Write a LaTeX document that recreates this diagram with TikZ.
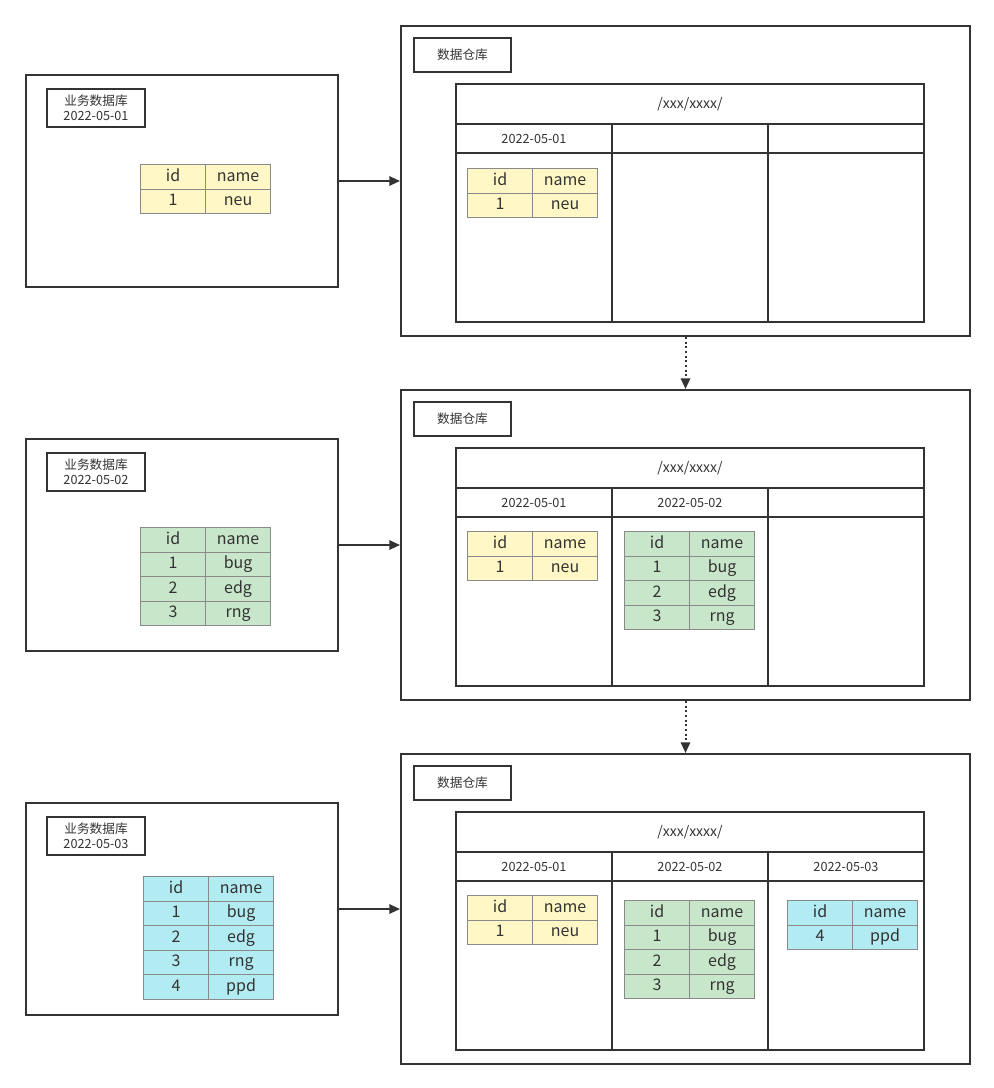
\documentclass[tikz,border=0pt]{standalone}
\usepackage{fontspec}
\setmainfont{Noto Sans CJK SC}
\usetikzlibrary{arrows.meta}
\definecolor{linec}{HTML}{333333}
\definecolor{cellc}{HTML}{8A8A8A}
\definecolor{txt}{HTML}{333333}
\definecolor{yel}{HTML}{FFF8C6}
\definecolor{grn}{HTML}{C8E6C9}
\definecolor{cyn}{HTML}{B2EBF2}
\tikzset{
  frame/.style={draw=linec, line width=1.5pt, inner sep=0pt, text=txt},
  lbl/.style={frame, font=\fontsize{9.5}{11.5}\selectfont, align=center},
  hdr/.style={frame, font=\fontsize{10.5}{12}\selectfont},
  datec/.style={frame, font=\fontsize{9.5}{11}\selectfont},
  cell/.style={draw=cellc, line width=0.9pt, anchor=north west, inner sep=0pt,
    minimum width=48.75pt, minimum height=18.375pt, text=txt,
    text height=9pt, text depth=2.5pt,
    font=\fontsize{12}{14}\selectfont},
  arr/.style={draw=linec, line width=1.5pt, -{Triangle[length=8pt,width=7pt]}},
  darr/.style={arr, dotted},
}
\newcommand{\rbox}[7]{\node[#6,anchor=north west,minimum width={0.75pt*(#4-#2)},minimum height={0.75pt*(#5-#3)}] (#1) at (#2,#3) {#7};}
\newcommand{\dbtable}[5]{%
  \node[cell,fill=#4] (#1-h1) at (#2,#3) {id};
  \node[cell,fill=#4] (#1-h2) at ({#2+65},#3) {name};
  \foreach \a/\b [count=\k] in {#5} {
    \node[cell,fill=#4] (#1-\k a) at (#2,{#3+24.5*\k}) {\a};
    \node[cell,fill=#4] (#1-\k b) at ({#2+65},{#3+24.5*\k}) {\b};
  }%
}
\begin{document}
\begin{tikzpicture}[x=0.75pt,y=-0.75pt]
\useasboundingbox[fill=white] (0,0) rectangle (994,1088);

% ---------- section 1 ----------
\rbox{lb1}{25}{74}{337}{286}{frame}{}
\rbox{ll1}{46}{88}{144}{126}{lbl}{业务数据库\\2022-05-01}
\dbtable{t1}{140}{164}{yel}{1/neu}
\rbox{wh1}{400}{25}{969}{335}{frame}{}
\rbox{wl1}{413}{37}{510}{71}{lbl}{数据仓库}
\rbox{hd1}{455}{83}{923}{123}{hdr}{/xxx/xxxx/}
\rbox{d1a}{455}{123}{611}{152}{datec}{2022-05-01}
\rbox{d1b}{611}{123}{767}{152}{datec}{}
\rbox{d1c}{767}{123}{923}{152}{datec}{}
\rbox{b1a}{455}{152}{611}{321}{frame}{}
\rbox{b1b}{611}{152}{767}{321}{frame}{}
\rbox{b1c}{767}{152}{923}{321}{frame}{}
\dbtable{w1a}{467}{168}{yel}{1/neu}
\draw[arr] (lb1.east) -- (wh1.west);

% ---------- section 2 ----------
\rbox{lb2}{25}{438}{337}{650}{frame}{}
\rbox{ll2}{46}{452}{144}{490}{lbl}{业务数据库\\2022-05-02}
\dbtable{t2}{140}{527}{grn}{1/bug,2/edg,3/rng}
\rbox{wh2}{400}{389}{969}{699}{frame}{}
\rbox{wl2}{413}{401}{510}{435}{lbl}{数据仓库}
\rbox{hd2}{455}{447}{923}{487}{hdr}{/xxx/xxxx/}
\rbox{d2a}{455}{487}{611}{516}{datec}{2022-05-01}
\rbox{d2b}{611}{487}{767}{516}{datec}{2022-05-02}
\rbox{d2c}{767}{487}{923}{516}{datec}{}
\rbox{b2a}{455}{516}{611}{685}{frame}{}
\rbox{b2b}{611}{516}{767}{685}{frame}{}
\rbox{b2c}{767}{516}{923}{685}{frame}{}
\dbtable{w2a}{467}{531}{yel}{1/neu}
\dbtable{w2b}{624}{531}{grn}{1/bug,2/edg,3/rng}
\draw[arr] (lb2.east) -- (wh2.west);

% ---------- section 3 ----------
\rbox{lb3}{25}{802}{337}{1014}{frame}{}
\rbox{ll3}{46}{816}{144}{854}{lbl}{业务数据库\\2022-05-03}
\dbtable{t3}{143}{876}{cyn}{1/bug,2/edg,3/rng,4/ppd}
\rbox{wh3}{400}{753}{969}{1063}{frame}{}
\rbox{wl3}{413}{765}{510}{799}{lbl}{数据仓库}
\rbox{hd3}{455}{811}{923}{851}{hdr}{/xxx/xxxx/}
\rbox{d3a}{455}{851}{611}{880}{datec}{2022-05-01}
\rbox{d3b}{611}{851}{767}{880}{datec}{2022-05-02}
\rbox{d3c}{767}{851}{923}{880}{datec}{2022-05-03}
\rbox{b3a}{455}{880}{611}{1049}{frame}{}
\rbox{b3b}{611}{880}{767}{1049}{frame}{}
\rbox{b3c}{767}{880}{923}{1049}{frame}{}
\dbtable{w3a}{467}{895}{yel}{1/neu}
\dbtable{w3b}{624}{900}{grn}{1/bug,2/edg,3/rng}
\dbtable{w3c}{787}{900}{cyn}{4/ppd}
\draw[arr] (lb3.east) -- (wh3.west);

% ---------- dotted arrows ----------
\draw[darr] (wh1.south) -- (wh2.north);
\draw[darr] (wh2.south) -- (wh3.north);
\end{tikzpicture}
\end{document}
